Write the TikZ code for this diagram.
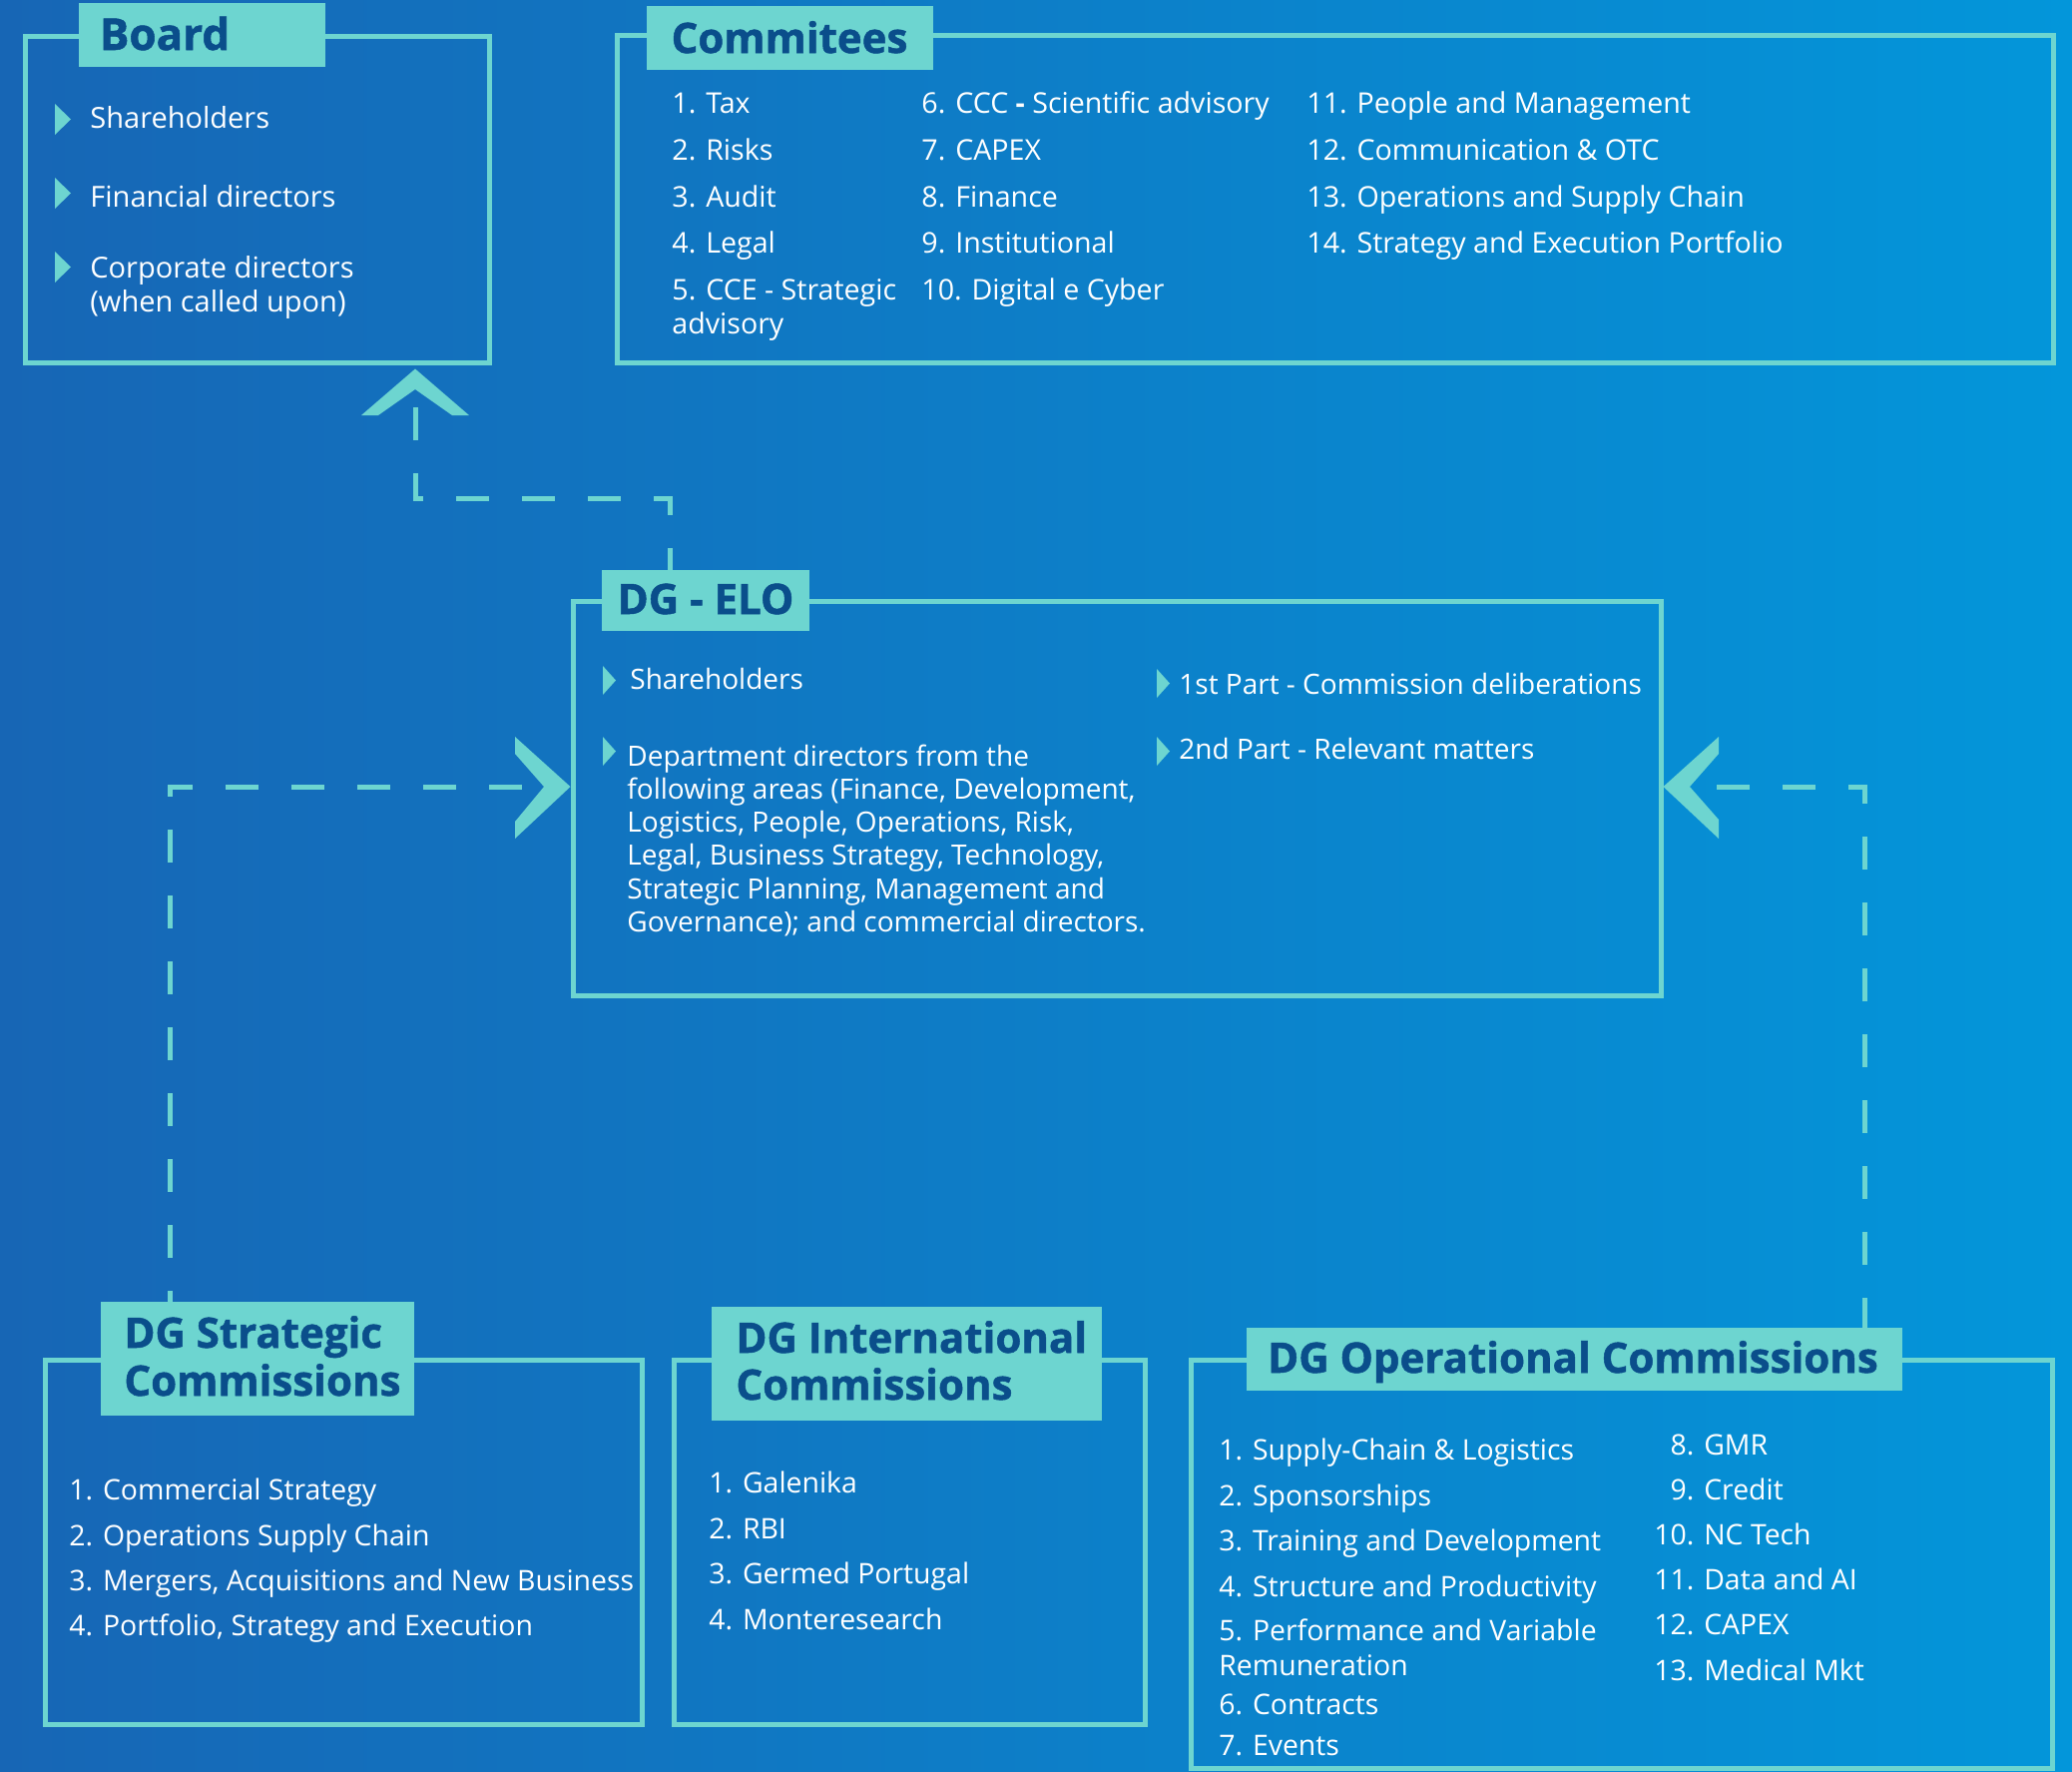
\documentclass[tikz,border=0pt]{standalone}
\usepackage{fontspec}
\setmainfont{Open Sans}
\newfontfamily\ttlfont{Open Sans}[BoldFeatures={FakeBold=1.2}]
\usetikzlibrary{fit,calc}
\definecolor{tealc}{HTML}{6DD5D0}
\definecolor{titlec}{HTML}{0A4E8B}
\definecolor{bgL}{HTML}{1766B5}
\definecolor{bgR}{HTML}{0396DA}
\newcommand\bul[4]{\fill[tealc] (#1,#2) -- ++(#3,#4/2) -- ++(-#3,#4/2) -- cycle;}
\begin{document}
\begin{tikzpicture}[x=0.5pt,y=-0.5pt,
  box/.style={draw=tealc, line width=2.5pt, inner sep=0pt},
  tab/.style={fill=tealc, inner sep=0pt},
  ttl/.style={text=titlec, font=\ttlfont\fontsize{21}{24}\selectfont\bfseries, anchor=base, inner sep=0pt},
  itm/.style={text=white, font=\fontsize{14}{16.7}\selectfont, anchor=base west, inner sep=0pt},
  bitm/.style={itm, font=\fontsize{14.5}{17}\selectfont},
  citm/.style={itm, font=\fontsize{14.3}{17}\selectfont},
  sitm/.style={itm, font=\fontsize{14.2}{17}\selectfont},
  conn/.style={draw=tealc, line width=2.5pt, dash pattern=on 16.5pt off 16.5pt},
]
\useasboundingbox (0,0) rectangle (2076,1774);
\shade[left color=bgL, right color=bgR] (0,0) rectangle (2076,1774);

% ---------- Board
\node[box, fit={(25,36) (490,363)}] (board) {};
\node[tab, fit={(79,3) (326,67)}] (boardtab) {};
\node[ttl, font=\ttlfont\fontsize{22}{26}\selectfont\bfseries] (boardt) at (165,50) {Board};
\bul{55}{104}{16}{31}
\bul{55}{178}{16}{31}
\bul{55}{252}{16}{31}
\node[bitm] (bi1) at (90,128) {Shareholders};
\node[bitm] (bi2) at (90,207) {Financial directors};
\node[bitm] (bi3) at (90,278) {Corporate directors};
\node[bitm] (bi4) at (90,312) {(when called upon)};

% ---------- Commitees
\node[box, fit={(618,35) (2057,363)}] (com) {};
\node[tab, fit={(648,6) (935,70)}] (comtab) {};
\node[ttl] (comt) at (791,53) {Commitees};
\foreach \yy/\txt [count=\i] in {113/1. Tax, 160/2. Risks, 207/3. Audit, 253/4. Legal, 300/5. CCE - Strategic, 334/advisory}
  \node[citm] (ca\i) at (673,\yy) {\txt};
\node[citm] (cb1) at (923,113) {6. CCC \textbf{-} Scientific advisory};
\foreach \yy/\txt [count=\i from 2] in {160/7. CAPEX, 207/8. Finance, 253/9. Institutional, 300/10. Digital e Cyber}
  \node[citm] (cb\i) at (923,\yy) {\txt};
\foreach \yy/\txt [count=\i] in {113/11. People and Management, 160/12. Communication \& OTC, 207/13. Operations and Supply Chain, 253/14. Strategy and Execution Portfolio}
  \node[citm] (cc\i) at (1309,\yy) {\txt};

% ---------- DG - ELO
\node[box, fit={(574,602) (1664,997)}] (elo) {};
\node[tab, fit={(603,571) (811,632)}] (elotab) {};
\node[ttl] (elot) at (707,615) {DG - ELO};
\bul{604}{667}{13}{29}
\bul{604}{738}{13}{29}
\bul{1159}{670}{13}{29}
\bul{1159}{738}{13}{29}
\node[itm] (eloa) at (631,690) {Shareholders};
\foreach \txt [count=\i from 0] in {Department directors from the, {following areas (Finance, Development,}, {Logistics, People, Operations, Risk,}, {Legal, Business Strategy, Technology,}, {Strategic Planning, Management and}, {Governance); and commercial directors.}}
  \node[itm] (elop\i) at (628,767+33.3*\i) {\txt};
\node[itm] (elob) at (1181,695) {1st Part - Commission deliberations};
\node[itm] (eloc) at (1181,760) {2nd Part - Relevant matters};

% ---------- DG Strategic Commissions
\node[box, fit={(45,1362) (643,1727)}] (str) {};
\node[tab, fit={(101,1304) (415,1418)}] (strtab) {};
\node[ttl, anchor=base west] (strt1) at (124,1350) {DG Strategic};
\node[ttl, anchor=base west] (strt2) at (124,1398) {Commissions};
\foreach \yy/\txt [count=\i] in {1502/1. Commercial Strategy, 1548/2. Operations Supply Chain, 1593/{3. Mergers, Acquisitions and New Business}, 1638/{4. Portfolio, Strategy and Execution}}
  \node[sitm] (si\i) at (69,\yy) {\txt};

% ---------- DG International Commissions
\node[box, fit={(675,1362) (1147,1727)}] (int) {};
\node[tab, fit={(713,1309) (1104,1423)}] (inttab) {};
\node[ttl, anchor=base west] (intt1) at (737,1355) {DG International};
\node[ttl, anchor=base west] (intt2) at (737,1402) {Commissions};
\foreach \yy/\txt [count=\i] in {1495/1. Galenika, 1541/2. RBI, 1586/3. Germed Portugal, 1632/4. Monteresearch}
  \node[sitm] (ii\i) at (710,\yy) {\txt};

% ---------- DG Operational Commissions
\node[box, fit={(1193,1362) (2056,1771)}] (op) {};
\node[tab, fit={(1249,1330) (1906,1393)}] (optab) {};
\node[ttl] (opt) at (1576,1375) {DG Operational Commissions};
\foreach \yy/\txt [count=\i] in {1462/1. Supply-Chain \& Logistics, 1508/2. Sponsorships, 1553/3. Training and Development, 1599/4. Structure and Productivity, 1643/5. Performance and Variable, 1678/Remuneration, 1717/6. Contracts, 1758/7. Events}
  \node[sitm] (oa\i) at (1221,\yy) {\txt};
\foreach \yy/\txt [count=\i] in {1457/\phantom{1}8. GMR, 1502/\phantom{1}9. Credit, 1547/10. NC Tech, 1592/11. Data and AI, 1637/12. CAPEX, 1683/13. Medical Mkt}
  \node[sitm] (ob\i) at (1657,\yy) {\txt};

% ---------- connectors
\coordinate (tc1) at (671,499);
\coordinate (bnotch) at (416,390);
\draw[conn, dash phase=5.5pt] (elotab.north -| tc1) -- (tc1) -| (bnotch);
\coordinate (lc1) at (170,788);
\coordinate (lnotch) at (545,788);
\draw[conn, dash phase=11pt] (strtab.north -| lc1) |- (lnotch);
\coordinate (rc1) at (1868,788);
\coordinate (rnotch) at (1693,788);
\draw[conn, dash phase=19.5pt] (rnotch) -| (optab.north -| rc1);

% ---------- chevrons
\fill[tealc] (board.south -| bnotch) ++(0,4) -- (470,416) -- (453,416) -- (bnotch) -- (379,416) -- (362,416) -- cycle;
\fill[tealc] (elo.west |- lnotch) -- (516,840) -- (516,823) -- (lnotch) -- (516,755) -- (516,738) -- cycle;
\fill[tealc] (elo.east |- rnotch) -- (1722,738) -- (1722,755) -- (rnotch) -- (1722,821) -- (1722,840) -- cycle;
\end{tikzpicture}
\end{document}
